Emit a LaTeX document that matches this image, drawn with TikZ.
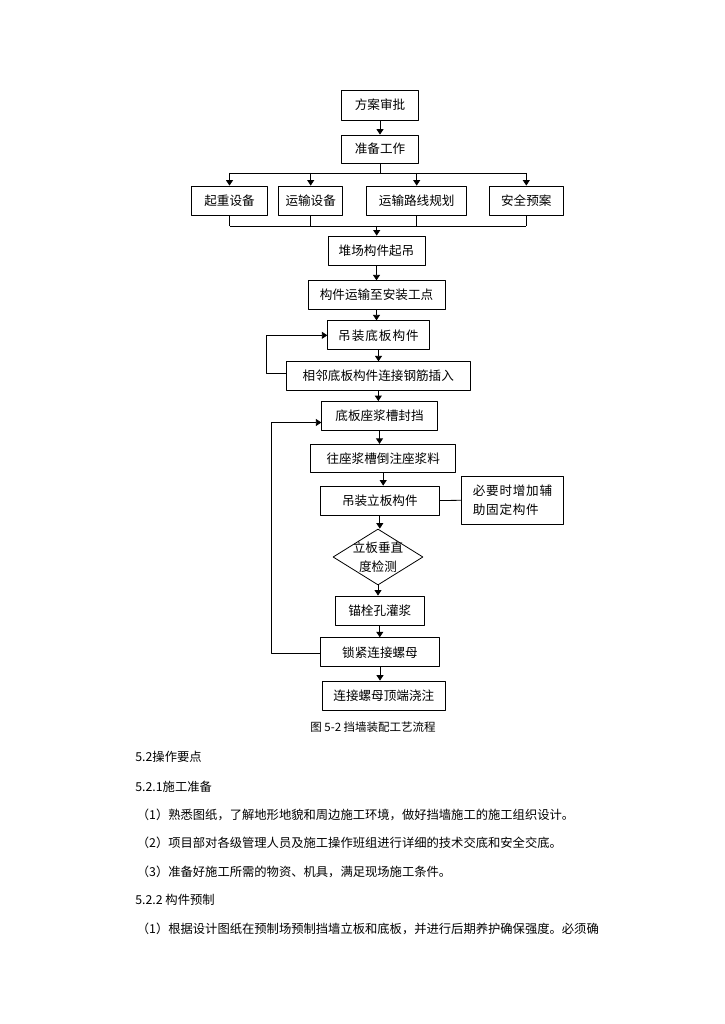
\documentclass[tikz,border=0pt]{standalone}
\usepackage{fontspec}
\setmainfont{Noto Sans CJK SC}
\usetikzlibrary{shapes.geometric,arrows.meta}
\tikzset{
  box/.style={draw, inner sep=0pt, minimum height=29pt, font=\fontsize{12.6}{14}\selectfont},
  spaced/.style={font=\fontsize{12.6}{14}\selectfont\addfontfeature{LetterSpace=8}},
  check/.style={draw, diamond, aspect=1.6, inner sep=-2pt, minimum width=90pt, minimum height=56pt, align=center, font=\fontsize{12.6}{19}\selectfont},
  body/.style={anchor=west, inner sep=0pt, font=\fontsize{12.3}{14}\selectfont},
}
\begin{document}
\begin{tikzpicture}[x=1pt,y=-1pt,>={Triangle[length=5.5pt,width=7pt]}, line width=.8pt, line join=round]
  \useasboundingbox (0,0) rectangle (724,1024);
  % main column
  \node[box, minimum width=77pt, minimum height=30pt] (fangan) at (380,105) {方案审批};
  \node[box, minimum width=77pt, minimum height=28pt] (zhunbei) at (380,149) {准备工作};
  \node[box, minimum width=76pt] (qizhong) at (229.5,200.5) {起重设备};
  \node[box, minimum width=64pt] (yunshu) at (310.7,200.5) {运输设备};
  \node[box, minimum width=100pt] (luxian) at (416.7,200.5) {运输路线规划};
  \node[box, minimum width=74pt] (anquan) at (526.3,200.5) {安全预案};
  \node[box, minimum width=97pt] (duichang) at (376.5,250.5) {堆场构件起吊};
  \node[box, minimum width=137pt, minimum height=28.5pt] (yunzhi) at (376.5,295) {构件运输至安装工点};
  \node[box, spaced, minimum width=101.5pt] (diaodiban) at (378.5,335.3) {吊装底板构件};
  \node[box, minimum width=184.5pt, minimum height=28.5pt] (xianglin) at (378.3,376) {相邻底板构件连接钢筋插入};
  \node[box, minimum width=115.5pt] (fengdang) at (379.5,416) {底板座浆槽封挡};
  \node[box, minimum width=145pt, minimum height=28pt] (zhujiang) at (383.2,458.3) {往座浆槽倒注座浆料};
  \node[box, minimum width=118.3pt] (diaolishu) at (379.8,500.5) {吊装立板构件};
  \node[box, minimum width=101.6pt, minimum height=47.3pt, align=left, font=\fontsize{12.6}{19}\selectfont\addfontfeature{LetterSpace=6}] (fuzhu) at (512.5,500.3) {必要时增加辅\\助固定构件};
  \node[check] (jiance) at (378,557) {立板垂直\\度检测};
  \node[box, minimum width=88.3pt, minimum height=29.7pt] (maoshuan) at (379.8,610.8) {锚栓孔灌浆};
  \node[box, minimum width=118.6pt] (suojin) at (380,652.2) {锁紧连接螺母};
  \node[box, minimum width=122.3pt] (jiaozhu) at (383.8,695.5) {连接螺母顶端浇注};
  % fork and join
  \coordinate (fork) at (380,173);
  \coordinate (join) at (376.7,226);
  \draw (zhunbei) -- (fork);
  \draw (qizhong.north |- fork) -- (anquan.north |- fork);
  \draw (qizhong.south |- join) -- (anquan.south |- join);
  \foreach \p in {qizhong,yunshu,luxian,anquan}
  {
    \draw[->] (\p.north |- fork) -- (\p.north);
    \draw (\p.south) -- (\p.south |- join);
  }
  \draw[->] (join) -- (join |- duichang.north);
  % straight arrows
  \foreach \a/\b in {fangan/zhunbei,duichang/yunzhi,yunzhi/diaodiban,diaodiban/xianglin,xianglin/fengdang,fengdang/zhujiang,zhujiang/diaolishu,diaolishu/jiance,jiance/maoshuan,maoshuan/suojin,suojin/jiaozhu}
    \draw[->] (\a.south) -- (\a.south |- \b.north);
  \draw (diaolishu.east) -- (fuzhu.west);
  % loops
  \draw[->] ([yshift=2.5pt]xianglin.west) -- ++(-19.3,0) |- (diaodiban.west);
  \draw[->] ([yshift=-1pt]suojin.west) -- ++(-49,0) |- ([yshift=-6.5pt]fengdang.west);
  % caption and text
  \node[inner sep=0pt, font=\fontsize{11.5}{13}\selectfont] (caption) at (373,727) {图 5-2 挡墙装配工艺流程};
  \node[body] (t1) at (135,757) {5.2操作要点};
  \node[body] (t2) at (135,787) {5.2.1施工准备};
  \node[body] (t3) at (136.5,815) {（1）熟悉图纸，了解地形地貌和周边施工环境，做好挡墙施工的施工组织设计。};
  \node[body] (t4) at (136.5,843) {（2）项目部对各级管理人员及施工操作班组进行详细的技术交底和安全交底。};
  \node[body] (t5) at (136.5,871.5) {（3）准备好施工所需的物资、机具，满足现场施工条件。};
  \node[body] (t6) at (135,899.5) {5.2.2 构件预制};
  \node[body] (t7) at (136.5,929) {（1）根据设计图纸在预制场预制挡墙立板和底板，并进行后期养护确保强度。必须确};
\end{tikzpicture}
\end{document}
